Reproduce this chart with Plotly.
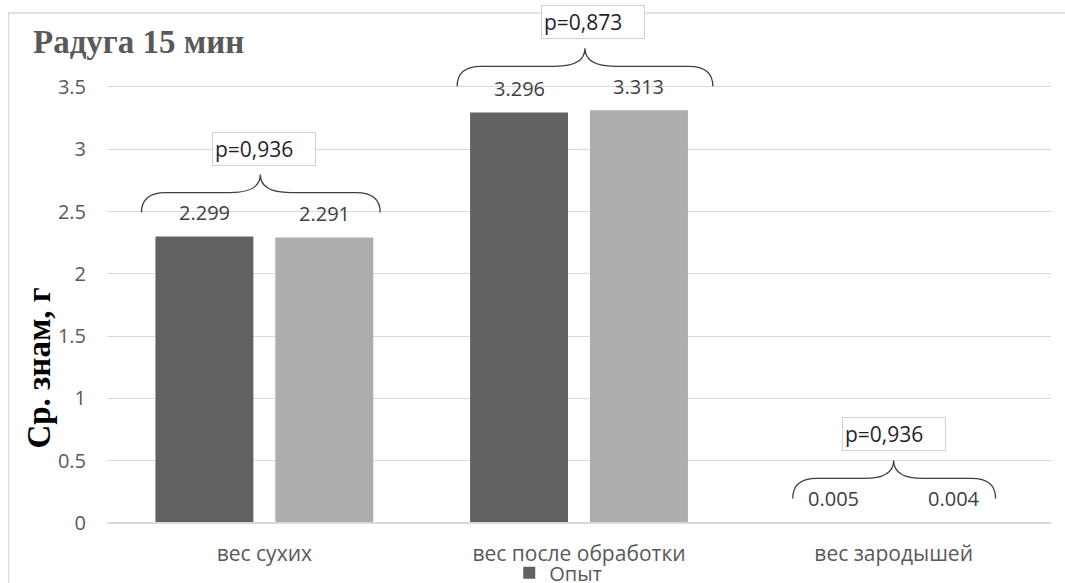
import plotly.graph_objects as go

categories = ["вес сухих", "вес после обработки", "вес зародышей"]
series_names = ["Опыт", "Контроль"]
opyt = [2.299, 3.296, 0.005]
kontrol = [2.291, 3.313, 0.004]
p_values = ["p=0,936", "p=0,873", "p=0,936"]
y_ticks = [0, 0.5, 1, 1.5, 2, 2.5, 3, 3.5]

W, H = 1065, 583
M_L, M_R, M_T, M_B = 106.5, 13.5, 10, 60
YMAX = 4.118
ppu = (H - M_T - M_B) / YMAX          # pixels per y unit
cat_w = (W - M_L - M_R) / len(categories)  # pixels per category

xs = list(range(len(categories)))

fig = go.Figure()
fig.add_trace(go.Bar(x=xs, y=opyt, name=series_names[0],
                     marker=dict(color="#626262", line=dict(width=0)),
                     showlegend=True))
fig.add_trace(go.Bar(x=xs, y=kontrol, name=series_names[1],
                     marker=dict(color="#adadad", line=dict(width=0)),
                     showlegend=False))

slot = 60 / cat_w  # half distance between bar centres in x units
brace_half = [(123, 116), (122, 134), (101, 102)]
cusp_dx = [-4, 6, 0]
box_dx = [0, 14, 0]

shapes = []
annotations = []
for i in xs:
    vals = [opyt[i], kontrol[i]]
    vmax = max(vals)
    # value labels
    for k, v in enumerate(vals):
        annotations.append(dict(x=i + (-slot if k == 0 else slot), y=v, xref="x", yref="y",
                                text=f"{v:.3f}", showarrow=False, yshift=24,
                                font=dict(family="Open Sans", size=20, color="#404040")))
    # brace
    y_end = vmax + 24 / ppu
    y_h = vmax + 44 / ppu
    y_c = vmax + 62 / ppu
    x0 = i - brace_half[i][0] / cat_w
    x1 = i + brace_half[i][1] / cat_w
    xc = i + cusp_dx[i] / cat_w
    rx = 24 / cat_w
    rx2 = 30 / cat_w
    path = (f"M {x0},{y_end} Q {x0},{y_h} {x0+rx},{y_h} "
            f"L {xc-rx2},{y_h} Q {xc},{y_h} {xc},{y_c} "
            f"Q {xc},{y_h} {xc+rx2},{y_h} "
            f"L {x1-rx},{y_h} Q {x1},{y_h} {x1},{y_end}")
    shapes.append(dict(type="path", path=path, xref="x", yref="y",
                       line=dict(color="#404040", width=1.3)))
    annotations.append(dict(x=i, y=y_c, xref="x", yref="y", text=p_values[i],
                            showarrow=False, yanchor="bottom", yshift=9, xshift=box_dx[i],
                            width=98, align="left", bgcolor="white",
                            bordercolor="#d0d0d0", borderwidth=1, borderpad=2,
                            font=dict(family="Open Sans", size=21, color="#1f1f2f")))

# chart border (top-left visible)
shapes.append(dict(type="rect", xref="paper", yref="paper",
                   x0=(8 - M_L) / (W - M_L - M_R), x1=1.3,
                   y0=-0.5, y1=(H - M_B - 13) / (H - M_T - M_B),
                   line=dict(color="#d9d9d9", width=1.3), layer="below"))

annotations.append(dict(x=(30 - M_L) / (W - M_L - M_R), y=(H - M_B - 42) / (H - M_T - M_B),
                        xref="paper", yref="paper", xanchor="left", yanchor="middle",
                        text="<b>Радуга 15 мин</b>", showarrow=False,
                        font=dict(family="Liberation Serif", size=33, color="#595959")))
annotations.append(dict(x=(38 - M_L) / (W - M_L - M_R), y=(H - M_B - 368) / (H - M_T - M_B),
                        xref="paper", yref="paper", xanchor="center", yanchor="middle",
                        text="<b>Ср. знам, г</b>", showarrow=False, textangle=-90,
                        font=dict(family="Liberation Serif", size=33, color="black")))

fig.update_layout(
    width=W, height=H,
    margin=dict(l=M_L, r=M_R, t=M_T, b=M_B, autoexpand=False),
    paper_bgcolor="white", plot_bgcolor="white",
    barmode="group", bargap=0.238, bargroupgap=0.183,
    shapes=shapes, annotations=annotations,
    showlegend=True,
    legend=dict(orientation="h", x=0.478, xanchor="center", y=-0.097, yanchor="middle",
                font=dict(family="Open Sans", size=20, color="#595959"),
                bgcolor="rgba(0,0,0,0)", itemwidth=30),
    xaxis=dict(tickmode="array", tickvals=xs, ticktext=categories, range=[-0.5, 2.5],
               showgrid=False, zeroline=False, showline=False, ticks="",
               ticklabelstandoff=16,
               tickfont=dict(family="Open Sans", size=21, color="#595959")),
    yaxis=dict(range=[0, YMAX], tickmode="array", tickvals=y_ticks,
               ticktext=[f"{t:g}" for t in y_ticks],
               showgrid=True, gridcolor="#d9d9d9", gridwidth=1.3,
               zeroline=True, zerolinecolor="#d9d9d9", zerolinewidth=1.6,
               zerolinelayer="above traces",
               showline=False, ticks="", ticklabelstandoff=20,
               tickfont=dict(family="Open Sans", size=20, color="#595959")),
)

fig.write_html("out.html")
